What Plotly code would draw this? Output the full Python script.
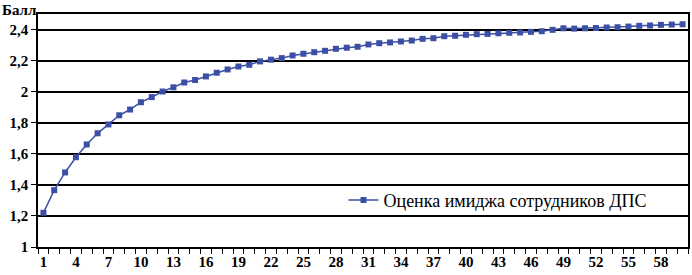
import plotly.graph_objects as go

categories = list(range(1, 61))
scores = [1.22, 1.366, 1.48, 1.578, 1.66, 1.732, 1.789, 1.848, 1.885, 1.932,
          1.965, 2.001, 2.028, 2.059, 2.075, 2.098, 2.122, 2.143, 2.162, 2.173,
          2.195, 2.206, 2.216, 2.233, 2.244, 2.254, 2.263, 2.276, 2.283, 2.289,
          2.304, 2.312, 2.317, 2.323, 2.329, 2.34, 2.344, 2.357, 2.36, 2.366,
          2.37, 2.372, 2.376, 2.379, 2.381, 2.385, 2.389, 2.398, 2.408, 2.406,
          2.408, 2.41, 2.413, 2.415, 2.419, 2.424, 2.426, 2.43, 2.432, 2.434]
x_tick_vals = list(range(1, 61, 3))
y_tick_vals = [1, 1.2, 1.4, 1.6, 1.8, 2, 2.2, 2.4]
y_tick_text = ["1", "1,2", "1,4", "1,6", "1,8", "2", "2,2", "2,4"]
series_name = "Оценка имиджа сотрудников ДПС"
y_title = "Балл"

color = "#3B4FA5"
serif = "Liberation Serif, Times New Roman, serif"

fig = go.Figure()
fig.add_trace(go.Scatter(
    x=categories, y=scores, mode="lines+markers", name=series_name,
    line=dict(color=color, width=1.5),
    marker=dict(symbol="square", size=6, color=color),
))

fig.update_layout(
    width=692, height=275,
    margin=dict(l=38, r=2, t=14, b=28),
    paper_bgcolor="white", plot_bgcolor="white",
    font=dict(family=serif, color="black"),
    showlegend=True,
    legend=dict(x=0.47, y=0.2, xanchor="left", yanchor="middle",
                bgcolor="rgba(0,0,0,0)", borderwidth=0,
                font=dict(family=serif, size=18, color="black")),
    xaxis=dict(range=[0.5, 60.5], tickmode="array", tickvals=x_tick_vals,
               ticktext=[str(v) for v in x_tick_vals], ticks="",
               showgrid=False, zeroline=False,
               showline=True, linecolor="black", linewidth=1.5, mirror=True,
               tickfont=dict(family=serif, size=15, color="black", weight="bold"),
               minor=dict(tickmode="linear", tick0=0.5, dtick=1, ticks="outside",
                          ticklen=5, tickwidth=1.2, tickcolor="black", showgrid=False)),
    yaxis=dict(range=[1, 2.5], tickmode="array", tickvals=y_tick_vals,
               ticktext=y_tick_text, ticks="outside", ticklen=5, tickwidth=1.2,
               tickcolor="black",
               showgrid=True, gridcolor="black", gridwidth=1.5, zeroline=False,
               showline=True, linecolor="black", linewidth=1.5, mirror=True,
               tickfont=dict(family=serif, size=15, color="black", weight="bold")),
    annotations=[dict(text=y_title, xref="paper", yref="paper",
                      x=-38/652, y=1 + 14/233, xanchor="left", yanchor="top",
                      showarrow=False,
                      font=dict(family=serif, size=15, color="black", weight="bold"))],
)

fig.write_html("out.html", config={"displayModeBar": False},
               post_script="document.body.style.margin='0';document.body.style.overflow='hidden';")
